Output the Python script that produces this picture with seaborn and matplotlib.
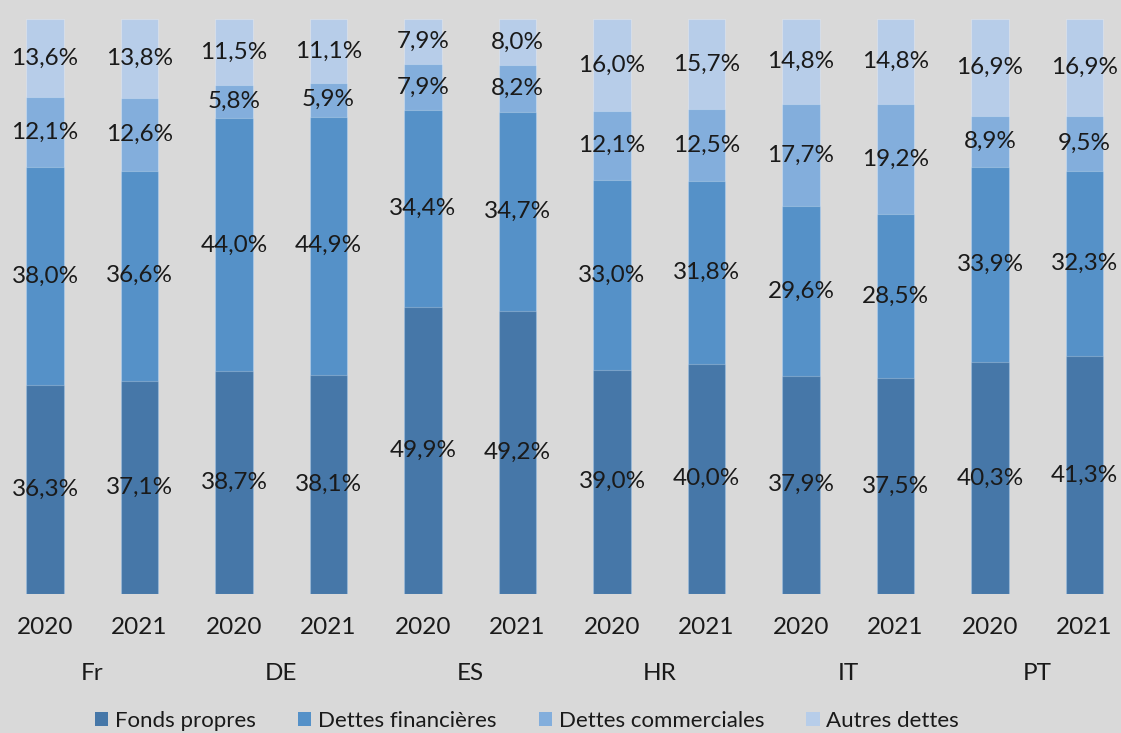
import numpy as np
import pandas as pd
import matplotlib
matplotlib.use("Agg")
import matplotlib.pyplot as plt
import seaborn as sns
from matplotlib.patches import Patch
from matplotlib.transforms import blended_transform_factory

# data (% of balance sheet)
countries = ["Fr", "DE", "ES", "HR", "IT", "PT"]
years = ["2020", "2021"]
series = ["Fonds propres", "Dettes financières", "Dettes commerciales", "Autres dettes"]
fonds_propres = [36.3, 37.1, 38.7, 38.1, 49.9, 49.2, 39.0, 40.0, 37.9, 37.5, 40.3, 41.3]
dettes_fin = [38.0, 36.6, 44.0, 44.9, 34.4, 34.7, 33.0, 31.8, 29.6, 28.5, 33.9, 32.3]
dettes_com = [12.1, 12.6, 5.8, 5.9, 7.9, 8.2, 12.1, 12.5, 17.7, 19.2, 8.9, 9.5]
autres = [13.6, 13.8, 11.5, 11.1, 7.9, 8.0, 16.0, 15.7, 14.8, 14.8, 16.9, 16.9]

colors = ["#4677A8", "#5591C8", "#83AEDC", "#B7CDE9"]
bg = "#D9D9D9"
txt = "#1A1A1A"
fs = 17.5

sns.set_theme(style="white")
plt.rcParams["font.family"] = ["Lato", "DejaVu Sans"]

keys = [f"{c} {y}" for c in countries for y in years]
df = pd.DataFrame({"key": keys,
                   series[0]: fonds_propres, series[1]: dettes_fin,
                   series[2]: dettes_com, series[3]: autres})
vals = df[series].to_numpy()
shares = vals / vals.sum(axis=1, keepdims=True) * 100
cum = np.cumsum(shares, axis=1)

fig = plt.figure(figsize=(11.21, 7.33), dpi=100, facecolor=bg)
ax = fig.add_axes([-0.002, 0.19, 1.0116, 0.784])
ax.set_facecolor(bg)

# draw cumulative bars back to front so they stack
for i in range(3, -1, -1):
    d = pd.DataFrame({"key": keys, "v": cum[:, i]})
    sns.barplot(data=d, x="key", y="v", order=keys, color=colors[i],
                saturation=1, width=0.4, ax=ax,
                edgecolor=(1, 1, 1, 0.25), linewidth=0.8)

# segment labels
for j in range(len(keys)):
    for i in range(4):
        lo = cum[j, i - 1] if i > 0 else 0
        mid = (lo + cum[j, i]) / 2
        ax.text(j, mid, f"{vals[j, i]:.1f}%".replace(".", ","),
                ha="center", va="center", fontsize=fs, color=txt)

ax.set_xlim(-0.5, 11.5)
ax.set_ylim(0, 100)
ax.set_yticks([])
ax.set_xlabel("")
ax.set_ylabel("")
ax.set_xticks(range(len(keys)))
ax.set_xticklabels(years * len(countries), fontsize=fs, color=txt)
ax.tick_params(axis="x", length=0, pad=17)
for s in ax.spines.values():
    s.set_visible(False)

trans = blended_transform_factory(ax.transData, ax.transAxes)
for k, c in enumerate(countries):
    ax.text(2 * k + 0.5, -0.138, c, transform=trans, ha="center", va="center",
            fontsize=fs, color=txt)

handles = [Patch(facecolor=colors[i], edgecolor="none", label=series[i]) for i in range(4)]
fig.legend(handles=handles, loc="center", bbox_to_anchor=(0.47, 0.016), ncol=4,
           frameon=False, fontsize=16, handlelength=0.6, handleheight=0.6,
           handletextpad=0.3, columnspacing=1.9, labelcolor=txt)

fig.savefig("out.png", dpi=100, facecolor=bg)
